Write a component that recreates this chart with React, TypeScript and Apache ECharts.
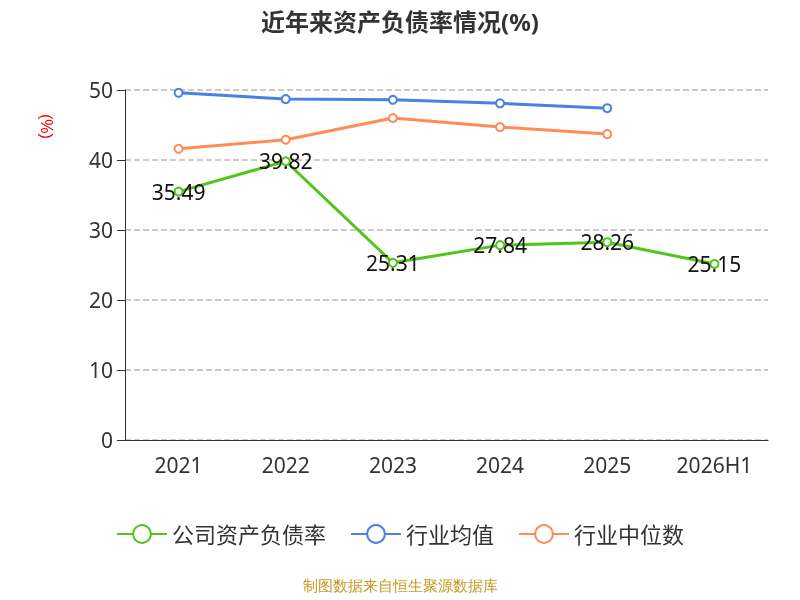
import * as echarts from 'echarts';
import { useEffect, useRef } from 'react';

const years = ['2021', '2022', '2023', '2024', '2025', '2026H1'];
const companyRate = [35.49, 39.82, 25.31, 27.84, 28.26, 25.15];
const industryAvg = [49.6, 48.7, 48.6, 48.1, 47.4];
const industryMedian = [41.6, 42.9, 46.0, 44.7, 43.7];

export default function App() {
    const chartRef = useRef<HTMLDivElement>(null);

    useEffect(() => {
        const chart = echarts.init(chartRef.current, null, { renderer: 'svg' });
        chart.setOption({
            animation: false,
            textStyle: { fontFamily: 'Noto Sans, Noto Sans CJK SC, sans-serif' },
            title: {
                text: '近年来资产负债率情况(%)',
                left: 'center',
                top: 4,
                textStyle: { fontSize: 24, fontWeight: 'bold', color: '#333' },
            },
            legend: {
                bottom: 50,
                left: 'center',
                itemWidth: 50,
                itemHeight: 22,
                itemGap: 24,
                textStyle: { fontSize: 22, color: '#333' },
                data: ['公司资产负债率', '行业均值', '行业中位数'],
            },
            graphic: [
                {
                    type: 'text',
                    left: 'center',
                    top: 578,
                    style: { text: '制图数据来自恒生聚源数据库', fill: '#c8961e', fontSize: 15 },
                },
                {
                    type: 'text',
                    x: 54,
                    y: 114,
                    rotation: -Math.PI / 2,
                    style: { text: '(%)', fill: '#e00', fontSize: 16 },
                },
            ],
            grid: { left: 125, right: 32, top: 90, bottom: 160 },
            xAxis: {
                type: 'category',
                data: years,
                axisLine: { lineStyle: { color: '#333' } },
                axisTick: { length: 8, lineStyle: { color: '#333' } },
                axisLabel: { fontSize: 21, color: '#333', margin: 14 },
            },
            yAxis: {
                type: 'value',
                min: 0,
                max: 50,
                interval: 10,
                axisLine: { show: true, lineStyle: { color: '#333' } },
                axisTick: { show: true, length: 8, lineStyle: { color: '#333' } },
                axisLabel: { fontSize: 21, color: '#333', margin: 12 },
                splitLine: { lineStyle: { type: 'dashed', color: '#bbb', width: 1.5 } },
            },
            series: [
                {
                    name: '公司资产负债率',
                    type: 'line',
                    data: companyRate,
                    color: '#52c41a',
                    symbol: 'emptyCircle',
                    symbolSize: 8,
                    lineStyle: { width: 3 },
                    label: { show: true, position: 'inside', fontSize: 21, color: '#111' },
                    z: 3,
                },
                {
                    name: '行业均值',
                    type: 'line',
                    data: industryAvg,
                    color: '#4a80e0',
                    symbol: 'emptyCircle',
                    symbolSize: 8,
                    lineStyle: { width: 3 },
                },
                {
                    name: '行业中位数',
                    type: 'line',
                    data: industryMedian,
                    color: '#ff8c55',
                    symbol: 'emptyCircle',
                    symbolSize: 8,
                    lineStyle: { width: 3 },
                },
            ],
        });
        return () => {
            chart.dispose();
        };
    }, []);

    return <div ref={chartRef} style={{ position: 'fixed', left: 0, top: 0, width: 800, height: 600 }} />;
}
